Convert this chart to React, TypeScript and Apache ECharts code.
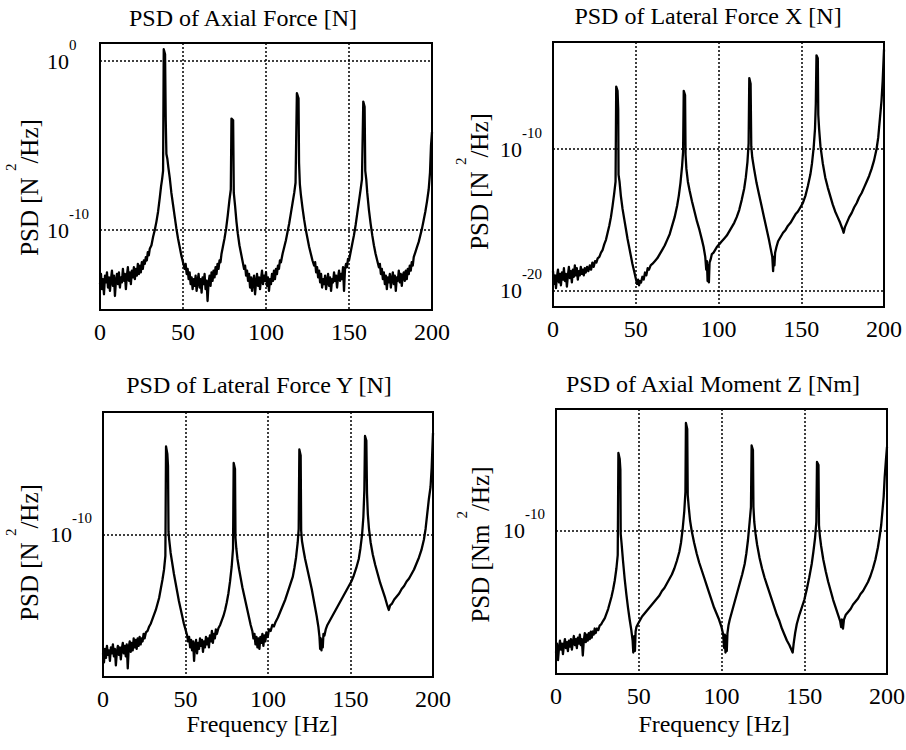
import React, { useEffect, useRef } from 'react';
import * as echarts from 'echarts';

const FONT = '"Liberation Serif", "Times New Roman", Times, serif';

// Frequency axis ticks [Hz]
const freqMin = 0;
const freqMax = 200;
const freqStep = 50;

// Panel titles and axis names
const panelTitles = [
  'PSD of Axial Force [N]',
  'PSD of Lateral Force X [N]',
  'PSD of Lateral Force Y [N]',
  'PSD of Axial Moment Z [Nm]',
];
const yUnits = ['N', 'N', 'N', 'Nm'];
const xName = 'Frequency [Hz]';

// Decade exponents labelled on each y axis (PSD = 10^exponent)
const yLabelExponents = [[-10, 0], [-20, -10], [-10], [-10]];
// Visible exponent range of each y axis
const yRanges = [
  [-14.73, 1.07],
  [-21.13, -2.46],
  [-19.47, -1.8],
  [-19.53, -1.87],
];

// Series: [frequency Hz, log10 PSD]
const axialForce: [number, number][] = [
  [0, -13.2], [0.6, -12.6], [1.2, -13.5], [1.8, -12.9], [2.4, -13.8], [3.0, -12.7], [3.6, -13.1], [4.2, -12.5], [4.8, -13.4], [5.4, -12.8],
  [6.0, -13.6], [6.6, -12.9], [7.2, -12.4], [7.8, -13.3], [8.4, -12.7], [9.0, -13.9], [9.6, -13.0], [10.2, -12.6], [10.8, -13.2], [11.4, -12.5],
  [12.0, -13.4], [12.6, -12.8], [13.2, -13.1], [13.8, -12.3], [14.4, -13.0], [15.0, -12.6], [15.6, -13.5], [16.2, -12.7], [16.8, -12.2], [17.4, -13.0],
  [18.0, -12.5], [18.6, -13.2], [19.2, -12.4], [19.8, -12.8], [20.4, -12.2], [21.0, -12.9], [21.6, -12.3], [22.2, -12.7], [22.8, -12.0], [23.4, -12.6],
  [24.0, -12.1], [24.6, -12.5], [25.2, -11.9], [25.8, -12.3], [26.4, -11.8], [27.0, -12.0], [27.6, -11.6], [28.2, -11.8], [28.8, -11.3], [29.4, -11.5],
  [30.0, -11.1], [31.0, -10.9], [32.0, -10.4], [33.0, -10.0], [34.0, -9.5], [35.0, -8.9], [36.0, -8.1], [36.8, -7.4], [37.4, -7.0], [38.0, -6.5],
  [38.4, 0.7], [39.2, 0.4], [39.6, -3.5], [40.0, -5.5], [40.6, -5.8], [41.2, -6.3], [42.0, -6.9], [43.0, -7.8], [44.0, -8.5], [45.0, -9.2],
  [46.0, -9.9], [47.0, -10.5], [48.0, -11.0], [49.0, -11.5], [50.0, -11.9], [51.0, -12.3], [51.6, -12.0], [52.2, -12.6], [52.8, -12.3], [53.4, -12.9],
  [54.0, -12.5], [54.6, -13.2], [55.2, -12.8], [55.8, -13.5], [56.4, -12.9], [57.0, -13.3], [57.6, -12.7], [58.2, -13.6], [58.8, -13.0], [59.4, -12.6],
  [60.0, -13.4], [60.6, -12.9], [61.2, -13.7], [61.8, -12.8], [62.4, -13.2], [63.0, -12.6], [63.6, -13.5], [64.2, -13.0], [64.8, -14.2], [65.4, -13.1],
  [66.0, -12.7], [66.6, -13.3], [67.2, -12.5], [67.8, -13.0], [68.4, -12.4], [69.0, -12.8], [69.6, -12.2], [70.2, -12.6], [70.8, -12.0], [71.4, -12.3],
  [72.0, -11.8], [72.6, -11.9], [73.2, -11.4], [74.0, -11.0], [75.0, -10.5], [76.0, -9.9], [77.0, -9.1], [78.0, -8.2], [78.8, -7.6], [79.2, -3.4],
  [80.2, -3.5], [80.6, -7.8], [81.4, -8.6], [82.2, -9.5], [83.0, -10.2], [84.0, -10.9], [85.0, -11.4], [86.0, -11.9], [86.8, -12.3], [87.4, -12.1],
  [88.0, -12.7], [88.6, -12.4], [89.2, -13.0], [89.8, -12.6], [90.4, -13.4], [91.0, -12.8], [91.6, -13.6], [92.2, -13.0], [92.8, -12.7], [93.4, -13.8],
  [94.0, -13.1], [94.6, -12.6], [95.2, -13.3], [95.8, -12.8], [96.4, -13.5], [97.0, -12.9], [97.6, -12.4], [98.2, -13.2], [98.8, -12.7], [99.4, -13.0],
  [100.0, -12.5], [100.6, -13.3], [101.2, -12.8], [101.8, -13.6], [102.4, -12.9], [103.0, -13.2], [103.6, -12.6], [104.2, -13.0], [104.8, -12.4], [105.4, -12.9],
  [106.0, -12.3], [106.6, -12.6], [107.2, -12.1], [107.8, -12.3], [108.4, -11.8], [109.0, -11.9], [110.0, -11.4], [111.0, -11.0], [112.0, -10.6], [113.0, -10.1],
  [114.0, -9.6], [115.0, -9.0], [116.0, -8.4], [117.0, -7.8], [117.8, -7.2], [118.6, -1.9], [119.6, -2.2], [119.9, -6.0], [120.4, -7.3], [121.0, -7.9],
  [122.0, -8.7], [123.0, -9.4], [124.0, -10.0], [125.0, -10.5], [126.0, -11.0], [127.0, -11.4], [128.0, -11.8], [129.0, -12.1], [129.6, -11.9], [130.2, -12.5],
  [130.8, -12.2], [131.4, -12.8], [132.0, -12.4], [132.6, -13.1], [133.2, -12.6], [133.8, -13.4], [134.4, -12.9], [135.0, -13.2], [135.6, -12.7], [136.2, -13.5],
  [136.8, -13.0], [137.4, -12.6], [138.0, -13.3], [138.6, -12.8], [139.2, -13.6], [139.8, -12.9], [140.4, -13.1], [141.0, -12.5], [141.6, -13.0], [142.2, -12.7],
  [142.8, -13.4], [143.4, -12.8], [144.0, -12.4], [144.6, -13.0], [145.2, -12.6], [145.8, -12.9], [146.4, -12.2], [147.0, -13.6], [147.6, -12.3], [148.2, -12.0],
  [148.8, -12.2], [149.4, -11.7], [150.0, -11.8], [151.0, -11.3], [152.0, -10.8], [153.0, -10.3], [154.0, -9.7], [155.0, -9.0], [156.0, -8.3], [157.0, -7.6],
  [157.8, -7.0], [158.6, -2.4], [159.4, -2.7], [159.8, -6.5], [160.4, -7.0], [161.0, -7.8], [162.0, -8.8], [163.0, -9.6], [164.0, -10.3], [165.0, -10.9],
  [166.0, -11.4], [167.0, -11.8], [168.0, -12.2], [168.6, -12.0], [169.2, -12.6], [169.8, -12.3], [170.4, -12.9], [171.0, -12.5], [171.6, -13.2], [172.2, -12.7],
  [172.8, -13.5], [173.4, -12.8], [174.0, -13.1], [174.6, -12.6], [175.2, -13.4], [175.8, -12.9], [176.4, -12.5], [177.0, -13.2], [177.6, -12.7], [178.2, -13.6],
  [178.8, -12.8], [179.4, -13.0], [180.0, -12.4], [180.6, -13.1], [181.2, -12.6], [181.8, -13.3], [182.4, -12.7], [183.0, -12.5], [183.6, -13.0], [184.2, -12.4],
  [184.8, -12.9], [185.4, -12.3], [186.0, -12.6], [186.6, -12.1], [187.2, -12.4], [187.8, -11.9], [188.4, -12.1], [189.0, -11.6], [190.0, -11.3], [191.0, -11.0],
  [192.0, -10.7], [193.0, -10.3], [194.0, -9.9], [195.0, -9.4], [196.0, -8.9], [197.0, -8.3], [198.0, -7.6], [198.8, -6.6], [199.4, -5.0], [200.0, -4.2],
];

const lateralForceX: [number, number][] = [
  [0, -18.6], [0.6, -19.5], [1.2, -18.9], [1.8, -19.8], [2.4, -19.0], [3.0, -18.5], [3.6, -19.4], [4.2, -18.8], [4.8, -19.6], [5.4, -18.7],
  [6.0, -19.2], [6.6, -18.4], [7.2, -19.3], [7.8, -18.8], [8.4, -19.7], [9.0, -18.9], [9.6, -18.3], [10.2, -19.1], [10.8, -18.6], [11.4, -19.4],
  [12.0, -18.5], [12.6, -19.0], [13.2, -18.2], [13.8, -18.9], [14.4, -18.4], [15.0, -19.2], [15.6, -18.6], [16.2, -18.9], [16.8, -18.3], [17.4, -18.8],
  [18.0, -18.5], [18.6, -18.9], [19.2, -18.4], [19.8, -18.7], [20.6, -18.3], [21.4, -18.6], [22.2, -18.2], [23.0, -18.5], [23.8, -18.0], [24.6, -18.3],
  [25.4, -17.9], [26.2, -18.0], [27.0, -17.7], [28.0, -17.6], [29.0, -17.3], [30.0, -17.1], [31.0, -16.7], [32.0, -16.4], [33.0, -15.9], [34.0, -15.4],
  [35.0, -14.8], [36.0, -14.0], [37.0, -13.1], [37.8, -12.3], [38.2, -5.6], [39.0, -5.9], [39.4, -7.2], [39.6, -11.8], [40.2, -12.3], [41.0, -13.3],
  [42.0, -14.2], [43.0, -14.9], [44.0, -15.6], [45.0, -16.3], [46.0, -16.9], [47.0, -17.5], [48.0, -18.1], [49.0, -18.6], [50.0, -19.1], [50.8, -19.5],
  [51.4, -19.2], [52.0, -19.6], [52.6, -19.3], [53.2, -19.4], [54.0, -19.0], [54.8, -19.2], [55.6, -18.7], [56.4, -18.9], [57.2, -18.4], [58.0, -18.5],
  [59.0, -18.2], [60.0, -18.1], [61.5, -17.9], [63.0, -17.7], [64.5, -17.4], [66.0, -17.1], [67.5, -16.8], [69.0, -16.4], [70.5, -16.0], [72.0, -15.4],
  [73.5, -14.8], [75.0, -14.0], [76.0, -13.3], [77.0, -12.4], [78.0, -11.2], [78.6, -10.2], [79.0, -5.9], [79.8, -6.2], [80.1, -10.4], [80.6, -11.4],
  [81.5, -12.3], [82.5, -12.9], [84.0, -13.7], [85.5, -14.4], [87.0, -15.1], [88.5, -15.7], [90.0, -16.4], [91.0, -16.9], [92.0, -17.6], [92.6, -18.5],
  [93.0, -17.9], [93.4, -19.3], [93.8, -18.2], [94.2, -19.4], [94.6, -18.0], [95.2, -17.8], [96.0, -17.4], [97.0, -17.3], [98.0, -17.1], [99.0, -16.9],
  [100.5, -16.7], [102.0, -16.5], [103.5, -16.3], [105.0, -16.1], [106.5, -15.8], [108.0, -15.5], [109.5, -15.2], [111.0, -14.8], [112.5, -14.3], [114.0, -13.6],
  [115.5, -12.8], [116.5, -12.0], [117.5, -10.9], [118.2, -9.6], [118.6, -5.0], [119.4, -5.4], [119.8, -9.8], [120.4, -10.6], [121.5, -11.4], [123.0, -12.4],
  [124.5, -13.2], [126.0, -14.0], [127.5, -14.8], [129.0, -15.6], [130.5, -16.4], [131.5, -17.0], [132.5, -17.6], [133.0, -18.6], [133.4, -17.6], [133.8, -18.2],
  [134.2, -17.3], [135.0, -16.9], [136.0, -16.5], [137.5, -16.2], [139.0, -15.9], [140.5, -15.7], [142.0, -15.4], [143.5, -15.2], [145.0, -14.9], [146.5, -14.6],
  [148.0, -14.4], [149.5, -14.1], [151.0, -13.8], [152.5, -13.3], [154.0, -12.6], [155.5, -11.8], [156.5, -11.0], [157.5, -9.9], [158.3, -8.6], [158.8, -6.8],
  [159.2, -3.4], [160.0, -3.6], [160.3, -7.6], [160.8, -8.6], [161.6, -9.8], [163.0, -11.0], [164.5, -12.0], [166.0, -12.7], [167.5, -13.3], [169.0, -13.9],
  [170.5, -14.4], [172.0, -14.8], [173.5, -15.2], [174.8, -15.6], [175.6, -15.9], [176.4, -15.5], [177.5, -15.2], [179.0, -14.8], [180.5, -14.5], [182.0, -14.1],
  [183.5, -13.8], [185.0, -13.4], [186.5, -13.1], [188.0, -12.7], [189.5, -12.3], [191.0, -11.9], [192.5, -11.4], [194.0, -10.8], [195.5, -10.0], [196.5, -9.2],
  [197.5, -7.9], [198.5, -6.6], [199.2, -5.2], [200.0, -3.0],
];

const lateralForceY: [number, number][] = [
  [0, -17.9], [0.6, -18.5], [1.2, -17.6], [1.8, -18.2], [2.4, -17.4], [3.0, -18.0], [3.6, -17.7], [4.2, -18.4], [4.8, -17.5], [5.4, -17.9],
  [6.0, -17.3], [6.6, -18.1], [7.2, -17.6], [7.8, -18.7], [8.4, -17.8], [9.0, -17.4], [9.6, -18.0], [10.2, -17.5], [10.8, -18.3], [11.4, -17.6],
  [12.0, -17.2], [12.6, -17.9], [13.2, -17.4], [13.8, -18.1], [14.4, -17.3], [15.0, -18.9], [15.6, -17.5], [16.2, -17.1], [16.8, -17.8], [17.4, -17.2],
  [18.0, -17.7], [18.6, -16.9], [19.2, -17.5], [19.8, -17.0], [20.4, -17.6], [21.0, -16.9], [21.6, -17.4], [22.2, -16.8], [22.8, -17.3], [23.4, -16.9],
  [24.0, -17.1], [24.6, -16.6], [25.2, -16.9], [26.0, -16.5], [27.0, -16.4], [28.0, -16.1], [29.0, -15.9], [30.0, -15.6], [31.0, -15.3], [32.0, -15.0],
  [33.0, -14.6], [34.0, -14.2], [35.0, -13.6], [36.0, -13.0], [37.0, -12.3], [37.8, -11.4], [38.2, -4.1], [39.0, -4.6], [39.4, -5.4], [39.7, -9.8],
  [40.2, -10.4], [41.0, -11.2], [42.0, -11.9], [43.0, -12.6], [44.0, -13.2], [45.0, -13.8], [46.0, -14.4], [47.0, -14.9], [48.0, -15.4], [49.0, -15.9],
  [50.0, -16.3], [51.0, -16.7], [51.6, -17.1], [52.2, -16.8], [52.8, -17.5], [53.4, -17.0], [54.0, -17.7], [54.6, -17.1], [55.2, -18.4], [55.8, -17.3],
  [56.4, -17.0], [57.0, -17.9], [57.6, -17.2], [58.2, -17.6], [58.8, -16.9], [59.4, -17.4], [60.0, -17.0], [60.6, -17.8], [61.2, -17.1], [61.8, -17.5],
  [62.4, -16.8], [63.0, -17.3], [63.6, -16.9], [64.2, -17.5], [64.8, -16.7], [65.4, -17.1], [66.0, -16.4], [66.6, -17.2], [67.2, -16.6], [67.8, -16.9],
  [68.4, -16.3], [69.0, -16.6], [70.0, -16.2], [71.0, -16.0], [72.0, -15.7], [73.0, -15.4], [74.0, -15.0], [75.0, -14.5], [76.0, -13.9], [77.0, -13.1],
  [78.0, -12.1], [78.8, -10.9], [79.2, -5.2], [80.0, -5.6], [80.3, -10.2], [80.8, -10.9], [81.5, -11.6], [82.5, -12.3], [83.5, -12.9], [84.5, -13.5],
  [85.5, -14.0], [86.5, -14.5], [87.5, -15.0], [88.5, -15.5], [89.5, -16.0], [90.5, -16.4], [91.2, -16.9], [91.8, -16.6], [92.4, -17.3], [93.0, -16.8],
  [93.6, -17.5], [94.2, -16.9], [94.8, -17.6], [95.4, -16.8], [96.0, -17.2], [96.6, -16.6], [97.2, -17.4], [97.8, -16.7], [98.4, -17.1], [99.0, -16.5],
  [99.8, -16.8], [100.6, -16.3], [101.6, -16.4], [102.6, -16.0], [103.6, -16.1], [104.6, -15.8], [106.0, -15.5], [107.5, -15.1], [109.0, -14.7], [110.5, -14.3],
  [112.0, -13.8], [113.5, -13.3], [115.0, -12.8], [116.0, -12.2], [117.0, -11.5], [118.0, -10.5], [118.6, -9.6], [119.0, -4.3], [119.8, -4.7], [120.1, -9.7],
  [120.6, -10.4], [121.5, -11.0], [122.5, -11.6], [123.5, -12.1], [124.5, -12.6], [125.5, -13.1], [126.5, -13.6], [127.5, -14.2], [128.5, -14.8], [129.5, -15.4],
  [130.5, -16.1], [131.2, -16.8], [131.6, -17.6], [132.0, -16.9], [132.4, -17.7], [132.8, -17.0], [133.2, -17.5], [133.6, -16.6], [134.2, -16.7], [135.0, -16.3],
  [136.0, -16.0], [137.0, -15.8], [138.5, -15.5], [140.0, -15.2], [141.5, -14.9], [143.0, -14.6], [144.5, -14.3], [146.0, -14.0], [147.5, -13.7], [149.0, -13.4],
  [150.5, -13.1], [152.0, -12.7], [153.5, -12.2], [155.0, -11.6], [156.0, -10.9], [157.0, -10.0], [157.8, -8.8], [158.4, -7.0], [158.8, -3.4], [159.6, -3.7],
  [160.0, -7.2], [160.5, -8.6], [161.2, -9.6], [162.2, -10.5], [163.5, -11.3], [165.0, -12.0], [166.5, -12.6], [168.0, -13.2], [169.5, -13.7], [171.0, -14.2],
  [172.3, -14.7], [173.2, -15.0], [174.0, -14.7], [175.0, -14.6], [176.5, -14.3], [178.0, -14.1], [179.5, -13.9], [181.0, -13.6], [182.5, -13.4], [184.0, -13.1],
  [185.5, -12.9], [187.0, -12.6], [188.5, -12.3], [190.0, -11.9], [191.5, -11.5], [193.0, -11.0], [194.5, -10.3], [195.5, -9.6], [196.5, -8.6], [197.5, -7.6],
  [198.5, -6.8], [199.2, -5.5], [200.0, -3.2],
];

const axialMomentZ: [number, number][] = [
  [0, -18.1], [0.6, -17.5], [1.2, -18.6], [1.8, -17.8], [2.4, -17.3], [3.0, -17.9], [3.6, -17.5], [4.2, -18.2], [4.8, -17.6], [5.4, -17.2],
  [6.0, -17.8], [6.6, -17.4], [7.2, -18.0], [7.8, -17.3], [8.4, -17.7], [9.0, -17.2], [9.6, -17.9], [10.2, -17.4], [10.8, -17.0], [11.4, -17.6],
  [12.0, -17.2], [12.6, -17.8], [13.2, -17.1], [13.8, -17.5], [14.4, -16.9], [15.0, -17.6], [15.6, -17.2], [16.2, -18.3], [16.8, -17.3], [17.4, -16.8],
  [18.0, -17.4], [18.6, -16.9], [19.2, -17.3], [19.8, -16.8], [20.4, -17.2], [21.0, -16.7], [21.6, -17.1], [22.2, -16.7], [22.8, -16.9], [23.4, -16.5],
  [24.0, -16.8], [24.8, -16.5], [25.6, -16.6], [26.4, -16.3], [27.4, -16.2], [28.4, -16.0], [29.5, -15.8], [30.5, -15.5], [31.5, -15.2], [32.5, -14.8],
  [33.5, -14.4], [34.5, -13.9], [35.5, -13.3], [36.5, -12.5], [37.3, -11.6], [37.7, -4.8], [38.5, -5.2], [38.9, -5.9], [39.1, -10.2], [39.6, -10.8],
  [40.5, -12.0], [41.5, -13.2], [42.5, -14.2], [43.5, -15.1], [44.5, -15.9], [45.5, -16.6], [46.3, -17.3], [46.7, -18.1], [47.3, -17.0], [47.7, -18.0],
  [48.1, -16.7], [48.6, -16.4], [49.5, -16.2], [50.5, -16.0], [52.0, -15.7], [53.5, -15.5], [55.0, -15.3], [56.5, -15.1], [58.0, -14.9], [59.5, -14.7],
  [61.0, -14.5], [62.5, -14.3], [64.0, -14.0], [65.5, -13.8], [67.0, -13.5], [68.5, -13.2], [70.0, -12.9], [71.5, -12.5], [73.0, -12.0], [74.5, -11.4],
  [75.5, -10.8], [76.5, -9.9], [77.5, -8.7], [78.2, -7.4], [78.5, -2.8], [79.3, -3.2], [79.6, -7.6], [80.2, -8.4], [81.0, -9.3], [82.0, -10.0],
  [83.5, -10.8], [85.0, -11.5], [86.5, -12.1], [88.0, -12.6], [89.5, -13.1], [91.0, -13.6], [92.5, -14.1], [94.0, -14.6], [95.5, -15.1], [97.0, -15.5],
  [98.5, -15.9], [100.0, -16.4], [101.0, -16.9], [101.6, -17.8], [102.0, -16.9], [102.4, -18.1], [102.8, -17.0], [103.2, -18.0], [103.6, -16.8], [104.2, -16.3],
  [105.0, -15.9], [106.5, -15.3], [108.0, -14.7], [109.5, -14.1], [111.0, -13.5], [112.5, -12.9], [114.0, -12.2], [115.0, -11.5], [116.0, -10.6], [117.0, -9.4],
  [117.8, -8.4], [118.2, -4.3], [119.0, -4.6], [119.3, -8.4], [119.8, -9.4], [120.6, -10.2], [121.5, -10.9], [123.0, -11.8], [124.5, -12.5], [126.0, -13.1],
  [127.5, -13.6], [129.0, -14.1], [130.5, -14.6], [132.0, -15.1], [133.5, -15.6], [135.0, -16.0], [136.5, -16.5], [138.0, -16.9], [139.5, -17.3], [141.0, -17.6],
  [142.2, -17.9], [143.0, -18.1], [143.6, -17.5], [144.5, -16.8], [145.5, -16.2], [147.0, -15.6], [148.5, -15.1], [150.0, -14.6], [151.5, -13.9], [153.0, -13.1],
  [154.5, -12.2], [155.5, -11.4], [156.5, -10.5], [157.3, -9.4], [157.7, -5.4], [158.6, -5.6], [158.9, -9.6], [159.4, -10.3], [160.2, -11.0], [161.5, -11.9],
  [163.0, -12.7], [164.5, -13.4], [166.0, -14.0], [167.5, -14.6], [169.0, -15.1], [170.5, -15.6], [171.7, -16.0], [172.3, -16.4], [172.8, -15.9], [173.4, -16.5],
  [174.0, -15.9], [175.0, -15.6], [176.5, -15.4], [178.0, -15.2], [179.5, -14.9], [181.0, -14.7], [182.5, -14.5], [184.0, -14.2], [185.5, -14.0], [187.0, -13.7],
  [188.5, -13.4], [190.0, -13.0], [191.5, -12.5], [193.0, -11.9], [194.5, -11.1], [195.5, -10.4], [196.5, -9.6], [197.3, -8.6], [198.0, -7.7], [198.6, -6.4],
  [199.4, -5.2], [200.0, -4.4],
];

const seriesData = [axialForce, lateralForceX, lateralForceY, axialMomentZ];

// Layout (pixels)
const grids = [
  { left: 100, top: 43, width: 332, height: 267 },
  { left: 553, top: 42, width: 331, height: 265 },
  { left: 103, top: 412, width: 330, height: 265 },
  { left: 556, top: 409, width: 331, height: 265 },
];
const titlePos = [
  { x: 243, y: 6 },
  { x: 708, y: 4 },
  { x: 259, y: 373 },
  { x: 713, y: 372 },
];
const yNameGaps = [45, 48, 48, 50];
const yNameShift = [22, 14, 16, 6];
const xNameGaps = [0, 0, 35, 38];
const xNameShift = [0, 0, 12, 15];

export default function App() {
  const ref = useRef<HTMLDivElement>(null);

  useEffect(() => {
    if (!ref.current) return;
    const chart = echarts.init(ref.current, undefined, { renderer: 'svg' });

    const textBase = { fontFamily: FONT, color: '#000', fontWeight: 'normal' as const };

    const option: any = {
      animation: false,
      backgroundColor: '#fff',
      title: panelTitles.map((t, i) => ({
        text: t,
        left: titlePos[i].x,
        top: titlePos[i].y,
        padding: 0,
        textAlign: 'center',
        textVerticalAlign: 'top',
        textStyle: { ...textBase, fontSize: 24 },
      })),
      grid: grids.map((g) => ({
        ...g,
        show: true,
        borderColor: '#000',
        borderWidth: 2,
        backgroundColor: 'transparent',
        containLabel: false,
        outerBoundsMode: 'none',
      })),
      xAxis: grids.map((_, i) => ({
        type: 'value',
        gridIndex: i,
        min: freqMin,
        max: freqMax,
        interval: freqStep,
        name: i >= 2 ? xName : '',
        nameLocation: 'middle',
        nameGap: xNameGaps[i],
        nameMoveOverlap: false,
        nameTextStyle: { ...textBase, fontSize: 24, padding: [0, xNameShift[i], 0, 0] },
        axisLine: { show: false },
        axisTick: { show: false },
        axisLabel: { ...textBase, fontSize: 24, margin: 10, showMinLabel: true, showMaxLabel: true },
        splitLine: { show: true, lineStyle: { color: '#000', width: 1.5, type: [2, 2] } },
      })),
      yAxis: grids.map((_, i) => ({
        type: 'value',
        gridIndex: i,
        min: yRanges[i][0],
        max: yRanges[i][1],
        name: `{m|PSD [${yUnits[i]} }{s|2}{m|/Hz]}`,
        nameLocation: 'middle',
        nameGap: yNameGaps[i],
        nameMoveOverlap: false,
        nameTextStyle: {
          ...textBase,
          padding: [0, yNameShift[i], 0, 0],
          rich: {
            m: { ...textBase, fontSize: 25, lineHeight: 52 },
            s: { ...textBase, fontSize: 15, lineHeight: 15, verticalAlign: 'top' },
          },
        },
        axisLine: { show: false },
        axisTick: { show: false },
        splitLine: { show: false },
        axisLabel: {
          customValues: yLabelExponents[i],
          align: 'left',
          margin: 53,
          formatter: (v: number) => `{b|10}{s|${v}}`,
          rich: {
            b: { ...textBase, fontSize: 22, lineHeight: 48 },
            s: { ...textBase, fontSize: 15, lineHeight: 15, verticalAlign: 'top' },
          },
        },
      })),
      series: seriesData.map((d, i) => ({
        type: 'line',
        xAxisIndex: i,
        yAxisIndex: i,
        data: d,
        symbol: 'none',
        showSymbol: false,
        silent: true,
        lineStyle: { color: '#000', width: 2.3, join: 'round' },
        markLine: {
          silent: true,
          symbol: ['none', 'none'],
          label: { show: false },
          lineStyle: { color: '#000', width: 1.5, type: [2, 2] },
          data: yLabelExponents[i].map((e) => ({ yAxis: e })),
        },
      })),
    };

    chart.setOption(option);
    return () => chart.dispose();
  }, []);

  return (
    <div
      ref={ref}
      style={{ position: 'absolute', left: 0, top: 0, width: 906, height: 750, background: '#fff' }}
    />
  );
}
